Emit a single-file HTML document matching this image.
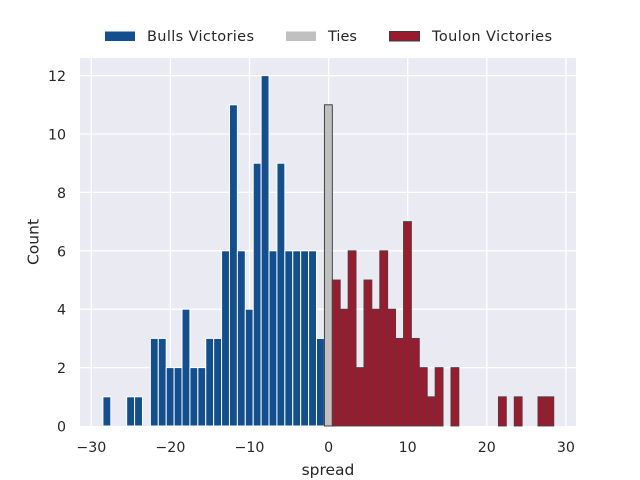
<!DOCTYPE html>
<html><head><meta charset="utf-8"><style>
html,body{margin:0;padding:0;background:#fff;}
svg{display:block;font-family:"DejaVu Sans","Liberation Sans",sans-serif;}
</style></head><body>
<svg width="640" height="480" viewBox="0 0 640 480" xmlns="http://www.w3.org/2000/svg">
<rect x="80" y="58" width="496" height="368" fill="#eaeaf2"/>
<g stroke="#fff" stroke-width="1.3">
<line x1="91.3" y1="58" x2="91.3" y2="426"/>
<line x1="170.4" y1="58" x2="170.4" y2="426"/>
<line x1="249.5" y1="58" x2="249.5" y2="426"/>
<line x1="328.6" y1="58" x2="328.6" y2="426"/>
<line x1="407.7" y1="58" x2="407.7" y2="426"/>
<line x1="486.8" y1="58" x2="486.8" y2="426"/>
<line x1="565.9" y1="58" x2="565.9" y2="426"/>
<line x1="80" y1="367.6" x2="576" y2="367.6"/>
<line x1="80" y1="309.2" x2="576" y2="309.2"/>
<line x1="80" y1="250.8" x2="576" y2="250.8"/>
<line x1="80" y1="192.4" x2="576" y2="192.4"/>
<line x1="80" y1="134" x2="576" y2="134"/>
<line x1="80" y1="75.6" x2="576" y2="75.6"/>
</g>
<g id="bars"></g>
<g font-size="14.2" fill="#262626" text-anchor="end">
<text x="66" y="431.5">0</text>
<text x="66" y="373.1">2</text>
<text x="66" y="314.7">4</text>
<text x="66" y="256.3">6</text>
<text x="66" y="197.9">8</text>
<text x="66" y="139.5">10</text>
<text x="66" y="81.1">12</text>
</g>
<g font-size="14.2" fill="#262626" text-anchor="middle">
<text x="91.3" y="452">−30</text>
<text x="170.4" y="452">−20</text>
<text x="249.5" y="452">−10</text>
<text x="328.6" y="452">0</text>
<text x="407.7" y="452">10</text>
<text x="486.8" y="452">20</text>
<text x="565.9" y="452">30</text>
<text x="328" y="475" font-size="15.5">spread</text>
<text transform="translate(38.5,242) rotate(-90)" font-size="15.5">Count</text>
</g>
<g font-size="14.5" fill="#262626">
<rect x="105" y="31.5" width="30" height="9.5" fill="#134f8f"/>
<text x="147" y="41" textLength="107">Bulls Victories</text>
<rect x="286" y="31.5" width="30" height="9.5" fill="#c0c0c0"/>
<text x="328" y="41">Ties</text>
<rect x="389.5" y="31.5" width="30" height="9.5" fill="#9a1a2e" stroke="#3c3c3c" stroke-width="1"/>
<text x="432" y="41" textLength="120">Toulon Victories</text>
</g>
</svg>
<script>
var g=document.getElementById('bars');var ns='http://www.w3.org/2000/svg';
var blue={'-28':1,'-25':1,'-24':1,'-22':3,'-21':3,'-20':2,'-19':2,'-18':4,'-17':2,'-16':2,'-15':3,'-14':3,'-13':6,'-12':11,'-11':6,'-10':4,'-9':9,'-8':12,'-7':6,'-6':9,'-5':6,'-4':6,'-3':6,'-2':6,'-1':3};
var red={1:5,2:4,3:6,4:2,5:5,6:4,7:6,8:4,9:3,10:7,11:3,12:2,13:1,14:2,16:2,22:1,24:1,27:1,28:1};
function bar(k,h,fill,stroke){var r=document.createElementNS(ns,'rect');var x=324.4+7.91*k;
r.setAttribute('x',x);r.setAttribute('width',7.91);r.setAttribute('y',426-29.2*h);r.setAttribute('height',29.2*h);
r.setAttribute('fill',fill);r.setAttribute('stroke',stroke);r.setAttribute('stroke-width',stroke=='#fff'?1:0.9);g.appendChild(r);}
for(var k in blue)bar(+k,blue[k],'#134f8f','#fff');
bar(0,11,'#c0c0c0','#333');
for(var k in red)bar(+k,red[k],'#9a1a2e','#444');
</script>
</body></html>
